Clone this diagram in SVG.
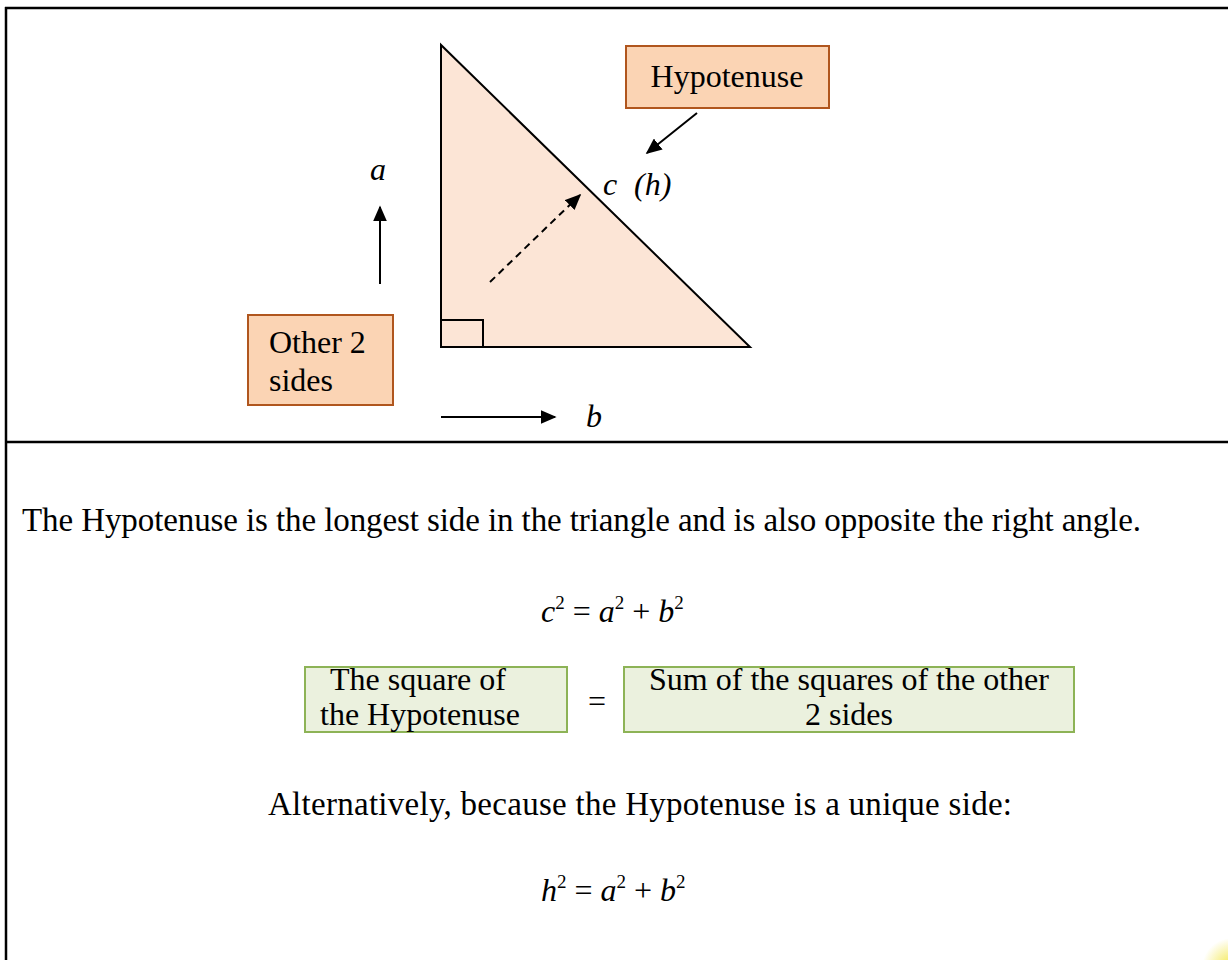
<svg xmlns="http://www.w3.org/2000/svg" width="1228" height="960" viewBox="0 0 1228 960">
<style>
text{font-family:"Liberation Serif","Times New Roman",serif;fill:#000}
.t{font-size:32px}
.b{font-size:33px}
.i{font-style:italic}
.m{font-size:32px}
.sup{font-size:19px}
.frame{stroke:#000;stroke-width:2.5;fill:none}
.ln{stroke:#000;stroke-width:2;fill:none}
.obox{fill:#FBD4B4;stroke:#B0561E;stroke-width:2}
.gbox{fill:#EBF1DE;stroke:#8DB356;stroke-width:2}
</style>
<defs>
<marker id="ah2" viewBox="0 0 10 10" refX="9" refY="5" markerWidth="16" markerHeight="14" markerUnits="userSpaceOnUse" orient="auto" preserveAspectRatio="none">
<path d="M0,0 L10,5 L0,10 z" fill="#000"/>
</marker>
<radialGradient id="glow" cx="0.5" cy="0.5" r="0.5">
<stop offset="0" stop-color="#F2E640" stop-opacity="1"/>
<stop offset="1" stop-color="#F2E640" stop-opacity="0"/>
</radialGradient>
</defs>

<g id="frame">
<line class="frame" x1="5" y1="8" x2="1228" y2="8"/>
<line class="frame" x1="6" y1="7" x2="6" y2="960"/>
<line class="frame" x1="5" y1="442" x2="1228" y2="442"/>
</g>

<g id="triangle">
<polygon points="441,45 441,347 750,347" fill="#FCE5D6" stroke="#000" stroke-width="2"/>
<polyline points="441,320 483,320 483,347" class="ln"/>
</g>

<g id="hypotenuse-label">
<rect class="obox" x="626" y="46" width="203" height="62"/>
<text class="t" x="727" y="87" text-anchor="middle">Hypotenuse</text>
</g>

<g id="other-sides-label">
<rect class="obox" x="248" y="315" width="145" height="90"/>
<text class="t" x="269" y="353">Other 2</text>
<text class="t" x="269" y="391">sides</text>
</g>

<g id="side-labels">
<text class="t i" x="370" y="180">a</text>
<text class="t i" x="603" y="195">c</text>
<text class="t i" x="634" y="195">(h)</text>
<text class="t i" x="586" y="427">b</text>
</g>

<g id="connectors">
<line class="ln" x1="380" y1="284" x2="380" y2="207" marker-end="url(#ah2)"/>
<line class="ln" x1="441" y1="417" x2="555" y2="417" marker-end="url(#ah2)"/>
<line class="ln" x1="697" y1="113" x2="647" y2="153" marker-end="url(#ah2)"/>
<line class="ln" x1="490" y1="282" x2="580" y2="195" stroke-dasharray="7,5" marker-end="url(#ah2)"/>
</g>

<g id="text-body">
<text class="b" x="22" y="531" textLength="1119" lengthAdjust="spacing">The Hypotenuse is the longest side in the triangle and is also opposite the right angle.</text>
<text class="m" x="541" y="622"><tspan class="i">c</tspan><tspan class="sup" dy="-13">2</tspan><tspan dy="13"> = </tspan><tspan class="i">a</tspan><tspan class="sup" dy="-13">2</tspan><tspan dy="13"> + </tspan><tspan class="i">b</tspan><tspan class="sup" dy="-13">2</tspan></text>
</g>

<g id="square-hyp">
<rect class="gbox" x="305" y="667" width="262" height="65"/>
<text class="t" x="418" y="690" text-anchor="middle">The square of</text>
<text class="t" x="420" y="725" text-anchor="middle">the Hypotenuse</text>
</g>
<g id="equals">
<text class="t" x="597" y="712" text-anchor="middle">=</text>
</g>
<g id="sum-squares">
<rect class="gbox" x="624" y="667" width="450" height="65"/>
<text class="t" x="849" y="690" text-anchor="middle">Sum of the squares of the other</text>
<text class="t" x="849" y="725" text-anchor="middle">2 sides</text>
</g>

<g id="alt-text">
<text class="b" x="268" y="815" textLength="744" lengthAdjust="spacing">Alternatively, because the Hypotenuse is a unique side:</text>
<text class="m" x="541" y="901"><tspan class="i">h</tspan><tspan class="sup" dy="-13">2</tspan><tspan dy="13"> = </tspan><tspan class="i">a</tspan><tspan class="sup" dy="-13">2</tspan><tspan dy="13"> + </tspan><tspan class="i">b</tspan><tspan class="sup" dy="-13">2</tspan></text>
</g>

<circle cx="1232" cy="968" r="30" fill="url(#glow)"/>
</svg>
